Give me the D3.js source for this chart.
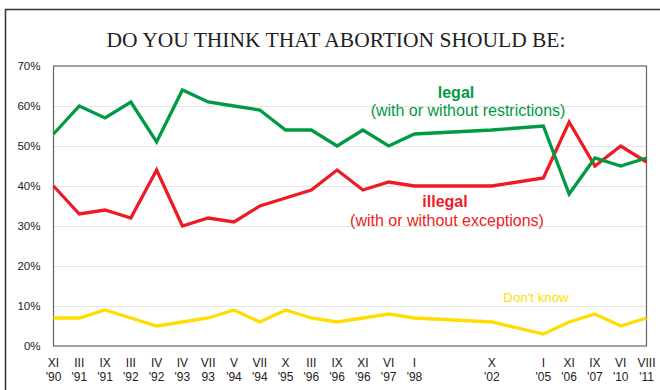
<!DOCTYPE html>
<html><head><meta charset="utf-8">
<script src="https://cdn.jsdelivr.net/npm/d3@7"></script>
<style>body{margin:0;background:#fff}svg{display:block}</style>
</head><body>
<svg id="c" width="660" height="390"></svg>
<script>
// category slots (blank slots keep the time gaps of the original axis)
const months = ["XI","III","IX","III","IV","IV","VII","V","VII","X","III","IX","XI","VI","I","","","X","","I","XI","IX","VI","VIII"];
const years  = ["'90","'91","'91","'92","'92","'93","93","'94","'94","'95","'96","'96","'96","'97","'98","","","'02","","'05","'06","'07","'10","'11"];
const legal   = [53,60,57,61,51,64,61,60,59,54,54,50,54,50,53,null,null,54,null,55,38,47,45,47];
const illegal = [40,33,34,32,44,30,32,31,35,37,39,44,39,41,40,null,null,40,null,42,56,45,50,46];
const dontKnow= [7,7,9,7,5,6,7,9,6,9,7,6,7,8,7,null,null,6,null,3,6,8,5,7];
const yTicks = [0,10,20,30,40,50,60,70];

const svg = d3.select("#c");
const L = 53.5, R = 646.5, T = 66, B = 346;
const slots = d3.range(months.length);
const x = d3.scalePoint().domain(slots).range([L, R]);
const y = d3.scaleLinear().domain([0,70]).range([B, T]);
const font = "Arial,'Liberation Sans',sans-serif";

// outer frame
svg.append("path").attr("d","M5.5,395 V9.5 H665").attr("fill","none").attr("stroke","#333").attr("stroke-width",1.5);

// title
svg.append("text").attr("x",336).attr("y",47).attr("text-anchor","middle")
  .attr("font-family","'Liberation Serif','Times New Roman',serif").attr("font-size",21.5).attr("fill","#222")
  .text("DO YOU THINK THAT ABORTION SHOULD BE:");

// gridlines
svg.append("g").selectAll("line").data(yTicks.filter(d=>d>0&&d<70)).join("line")
  .attr("x1",L).attr("x2",R).attr("y1",d=>Math.round(y(d))+0.5).attr("y2",d=>Math.round(y(d))+0.5)
  .attr("stroke","#c8c8c8").attr("stroke-width",1).attr("stroke-dasharray","1,1");

// plot border
svg.append("rect").attr("x",L).attr("y",T).attr("width",R-L).attr("height",B-T)
  .attr("fill","none").attr("stroke","#666").attr("stroke-width",1.2);

// y axis labels
const yAxis = d3.axisLeft(y).tickValues(yTicks).tickFormat(d=>d+"%").tickSize(0).tickPadding(13);
const gy = svg.append("g").attr("transform",`translate(${L},0)`).call(yAxis);
gy.select(".domain").remove();
gy.selectAll("text").attr("font-family",font).attr("font-size",11.5).attr("fill","#222");

// x axis labels (two lines)
const gx = svg.append("g");
gx.selectAll("text.m").data(slots.filter(i=>months[i])).join("text").attr("class","m")
  .attr("x",i=>x(i)).attr("y",367).attr("text-anchor","middle")
  .attr("font-family",font).attr("font-size",12).attr("fill","#222")
  .text(i=>months[i]);
gx.selectAll("text.yr").data(slots.filter(i=>years[i])).join("text").attr("class","yr")
  .attr("x",i=>x(i)).attr("y",381).attr("text-anchor","middle")
  .attr("font-family",font).attr("font-size",12).attr("fill","#222")
  .text(i=>years[i]);

// lines
const line = d3.line().x(d=>x(d.i)).y(d=>y(d.v));
function draw(arr, color){
  const pts = arr.map((v,i)=>({i,v})).filter(d=>d.v!==null);
  svg.append("path").datum(pts).attr("d",line).attr("fill","none")
    .attr("stroke",color).attr("stroke-width",3.3).attr("stroke-linejoin","miter").attr("stroke-miterlimit",4);
}
draw(dontKnow,"#ffdd00");
draw(illegal,"#ed1c24");
draw(legal,"#009a44");

// labels
svg.append("text").attr("x",456).attr("y",98).attr("text-anchor","middle").attr("font-family",font)
  .attr("font-size",16).attr("font-weight","bold").attr("fill","#009a44").text("legal");
svg.append("text").attr("x",468).attr("y",116).attr("text-anchor","middle").attr("font-family",font)
  .attr("font-size",16).attr("fill","#009a44").text("(with or without restrictions)");
svg.append("text").attr("x",445).attr("y",207).attr("text-anchor","middle").attr("font-family",font)
  .attr("font-size",16).attr("font-weight","bold").attr("fill","#ed1c24").text("illegal");
svg.append("text").attr("x",447).attr("y",226).attr("text-anchor","middle").attr("font-family",font)
  .attr("font-size",16).attr("fill","#ed1c24").text("(with or without exceptions)");
svg.append("text").attr("x",536).attr("y",302).attr("text-anchor","middle").attr("font-family",font)
  .attr("font-size",13.3).attr("fill","#ffdd00").text("Don't know");
</script>
</body></html>
